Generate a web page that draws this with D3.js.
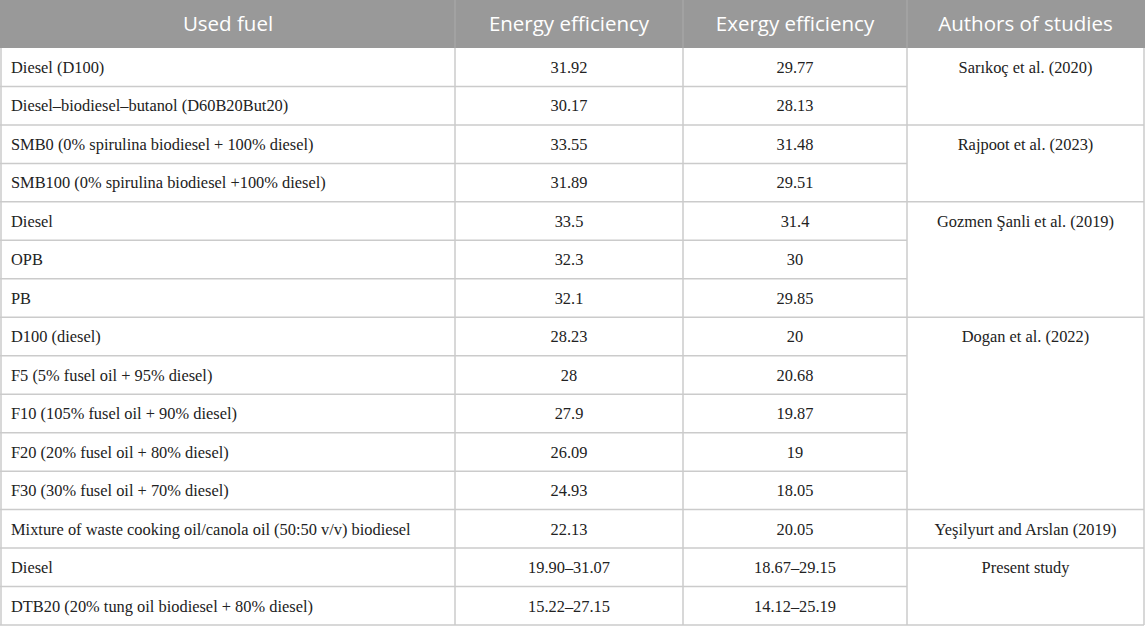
<!DOCTYPE html>
<html>
<head>
<meta charset="utf-8">
<script src="https://cdn.jsdelivr.net/npm/d3@7"></script>
<style>
  html, body { margin: 0; padding: 0; background: #fff; }
  svg { display: block; }
</style>
</head>
<body>
<div id="table"></div>
<script>
/* Energy / exergy efficiency comparison table */

const headers = ['Used fuel', 'Energy efficiency', 'Exergy efficiency', 'Authors of studies'];

const fuels = [
  'Diesel (D100)',
  'Diesel–biodiesel–butanol (D60B20But20)',
  'SMB0 (0% spirulina biodiesel + 100% diesel)',
  'SMB100 (0% spirulina biodiesel +100% diesel)',
  'Diesel',
  'OPB',
  'PB',
  'D100 (diesel)',
  'F5 (5% fusel oil + 95% diesel)',
  'F10 (105% fusel oil + 90% diesel)',
  'F20 (20% fusel oil + 80% diesel)',
  'F30 (30% fusel oil + 70% diesel)',
  'Mixture of waste cooking oil/canola oil (50:50 v/v) biodiesel',
  'Diesel',
  'DTB20 (20% tung oil biodiesel + 80% diesel)'
];

const energy = ['31.92', '30.17', '33.55', '31.89', '33.5', '32.3', '32.1', '28.23', '28', '27.9',
  '26.09', '24.93', '22.13', '19.90–31.07', '15.22–27.15'];

const exergy = ['29.77', '28.13', '31.48', '29.51', '31.4', '30', '29.85', '20', '20.68', '19.87',
  '19', '18.05', '20.05', '18.67–29.15', '14.12–25.19'];

// authors span several rows: [name, first row, row count]
const authors = [
  ['Sarıkoç et al. (2020)', 0, 2],
  ['Rajpoot et al. (2023)', 2, 2],
  ['Gozmen Şanli et al. (2019)', 4, 3],
  ['Dogan et al. (2022)', 7, 5],
  ['Yeşilyurt and Arslan (2019)', 12, 1],
  ['Present study', 13, 2]
];

const width = 1145, height = 626;
const headerH = 48;
const colEdges = [1, 455, 683, 907, 1144];
const lineColor = '#cbcbcb';

const svg = d3.select('#table').append('svg')
  .attr('width', width).attr('height', height);

const y = d3.scaleBand().domain(d3.range(fuels.length)).range([headerH, 625]);
const colMid = i => (colEdges[i] + colEdges[i + 1]) / 2;

// header
svg.append('rect')
  .attr('x', 0).attr('y', 0).attr('width', width).attr('height', headerH)
  .attr('fill', '#999999');

svg.selectAll('.hd').data(headers).enter().append('text')
  .attr('x', (d, i) => colMid(i))
  .attr('y', headerH / 2)
  .attr('dy', '0.35em')
  .attr('text-anchor', 'middle')
  .style('font-family', '"Open Sans", "Noto Sans", sans-serif')
  .style('font-size', '20.5px')
  .style('fill', '#fff')
  .text(d => d);

svg.selectAll('.hsep').data(colEdges.slice(1, -1)).enter().append('line')
  .attr('x1', d => d).attr('x2', d => d)
  .attr('y1', 0).attr('y2', headerH)
  .attr('stroke', '#a8a8a8').attr('stroke-width', 1.2);

// row lines across the first three columns
svg.selectAll('.rl').data(d3.range(1, fuels.length)).enter().append('line')
  .attr('x1', 0).attr('x2', colEdges[3])
  .attr('y1', d => y(d)).attr('y2', d => y(d))
  .attr('stroke', lineColor).attr('stroke-width', 1.5);

// author group lines
svg.selectAll('.al').data(authors.slice(1)).enter().append('line')
  .attr('x1', colEdges[3]).attr('x2', colEdges[4])
  .attr('y1', d => y(d[1])).attr('y2', d => y(d[1]))
  .attr('stroke', lineColor).attr('stroke-width', 1.5);

// vertical lines in body
svg.selectAll('.vl').data(colEdges).enter().append('line')
  .attr('x1', d => d).attr('x2', d => d)
  .attr('y1', headerH).attr('y2', 625)
  .attr('stroke', lineColor).attr('stroke-width', 1.5);

// bottom border
svg.append('line')
  .attr('x1', 0).attr('x2', colEdges[4])
  .attr('y1', 625).attr('y2', 625)
  .attr('stroke', lineColor).attr('stroke-width', 1.5);

const bodyFont = '"Liberation Serif", "DejaVu Serif", serif';
const textMid = i => y(i) + y.bandwidth() / 2;

const body = svg.append('g')
  .style('font-family', bodyFont)
  .style('font-size', '16.4px')
  .style('fill', '#222');

body.selectAll('.fuel').data(fuels).enter().append('text')
  .attr('x', 11)
  .attr('y', (d, i) => textMid(i))
  .attr('dy', '0.35em')
  .text(d => d);

body.selectAll('.en').data(energy).enter().append('text')
  .attr('x', colMid(1))
  .attr('y', (d, i) => textMid(i))
  .attr('dy', '0.35em')
  .attr('text-anchor', 'middle')
  .text(d => d);

body.selectAll('.ex').data(exergy).enter().append('text')
  .attr('x', colMid(2))
  .attr('y', (d, i) => textMid(i))
  .attr('dy', '0.35em')
  .attr('text-anchor', 'middle')
  .text(d => d);

body.selectAll('.au').data(authors).enter().append('text')
  .attr('x', colMid(3))
  .attr('y', d => textMid(d[1]))
  .attr('dy', '0.35em')
  .attr('text-anchor', 'middle')
  .text(d => d[0]);
</script>
</body>
</html>
